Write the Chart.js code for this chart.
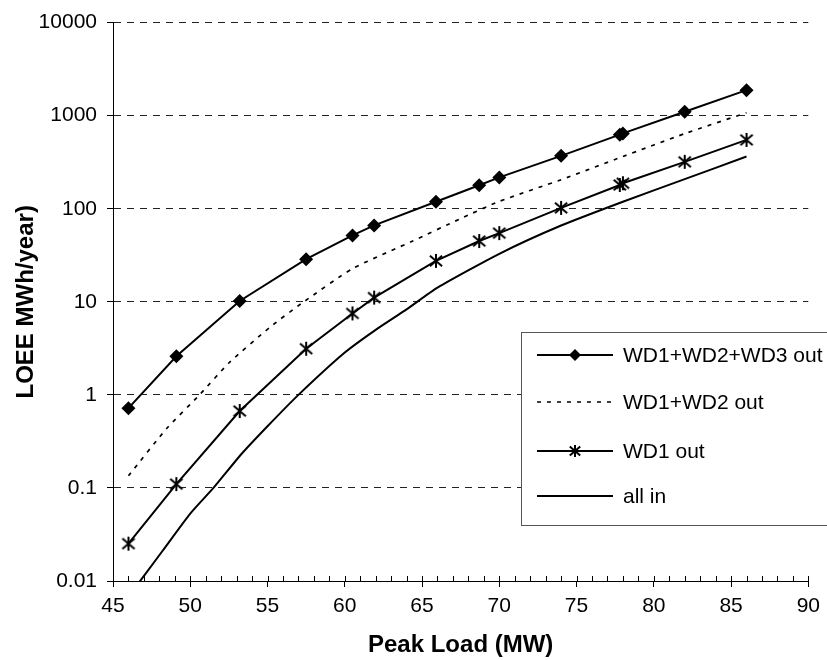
<!DOCTYPE html>
<html>
<head>
<meta charset="utf-8">
<script src="https://cdn.jsdelivr.net/npm/chart.js@4.4.0/dist/chart.umd.min.js"></script>
<style>
html, body { margin: 0; padding: 0; background: #fff; }
#wrap { width: 827px; height: 660px; }
</style>
</head>
<body>
<div id="wrap"><canvas id="loeeChart" width="827" height="660"></canvas></div>
<script>
// peak load values where the markers sit (MW)
const loadMW = [46, 49.1, 53.2, 57.5, 60.5, 61.9, 65.9, 68.7, 70, 74, 77.8, 78, 82, 86];
const wd123Out = [0.72, 2.6, 10.2, 28.7, 51.7, 66.2, 119, 179, 217, 370, 625, 645, 1100, 1880];
const wd1Out = [0.0252, 0.110, 0.67, 3.13, 7.5, 11.1, 27.5, 45, 54.7, 102, 180, 188, 319, 549];

// the unmarked curves, read at their own loads
const wd12Load = [46, 48.5, 50.6, 52.5, 55.2, 57.2, 60.5, 64.4, 67.4, 70, 74, 78, 82, 86];
const wd12Out = [0.135, 0.44, 1.0, 2.2, 5.4, 9.6, 22.7, 45, 77, 120, 205, 364, 641, 1075];
const allInLoad = [46, 48.2, 50, 51.5, 53.3, 55, 57, 60, 62, 64, 66, 70, 74, 78, 82, 86];
const allIn = [0.0068, 0.021, 0.053, 0.10, 0.23, 0.46, 1.0, 2.85, 5.0, 8.3, 14.2, 32.8, 66, 119, 208, 364];

const seriesNames = ['WD1+WD2+WD3 out', 'WD1+WD2 out', 'WD1 out', 'all in'];
const yTicks = [0.01, 0.1, 1, 10, 100, 1000, 10000];
const yTickLabels = ['0.01', '0.1', '1', '10', '100', '1000', '10000'];
const xTicks = [45, 50, 55, 60, 65, 70, 75, 80, 85, 90];

const FONT = '"Liberation Sans", Arial, sans-serif';

function pairs(xs, ys) {
    return xs.map((x, i) => ({ x: x, y: ys[i] }));
}

// excel style asterisk marker (X with a vertical bar)
function makeAsterisk(size, lw) {
    const c = document.createElement('canvas');
    c.width = size;
    c.height = size;
    const g = c.getContext('2d');
    const m = size / 2;
    const r = size / 2 - 1;
    g.strokeStyle = '#000';
    g.lineWidth = lw;
    g.beginPath();
    g.moveTo(m, m - r); g.lineTo(m, m + r);
    g.moveTo(m - r * 0.87, m - r * 0.75); g.lineTo(m + r * 0.87, m + r * 0.75);
    g.moveTo(m + r * 0.87, m - r * 0.75); g.lineTo(m - r * 0.87, m + r * 0.75);
    g.stroke();
    return c;
}
const starBig = makeAsterisk(16, 2);
const starSmall = makeAsterisk(14, 2);

// minor ticks on the x axis, drawn inside the plot
const xMinorTicks = {
    id: 'xMinorTicks',
    afterDraw(chart) {
        const ctx = chart.ctx;
        const xs = chart.scales.x;
        const bottom = chart.chartArea.bottom;
        ctx.save();
        ctx.strokeStyle = '#000';
        ctx.lineWidth = 1;
        ctx.beginPath();
        for (let v = xs.min; v <= xs.max; v++) {
            const px = Math.round(xs.getPixelForValue(v)) + 0.5;
            ctx.moveTo(px, bottom - 5);
            ctx.lineTo(px, bottom);
        }
        ctx.stroke();
        ctx.restore();
    }
};

// boxed legend sitting inside the plot, cut by the right edge
const boxLegend = {
    id: 'boxLegend',
    afterDraw(chart) {
        const ctx = chart.ctx;
        const rows = [355, 402, 451, 496];
        ctx.save();
        ctx.fillStyle = '#fff';
        ctx.fillRect(521, 332, 400, 194);
        ctx.strokeStyle = '#555';
        ctx.lineWidth = 1;
        ctx.strokeRect(521.5, 332.5, 400, 193);

        chart.data.datasets.forEach((ds, i) => {
            const y = rows[i];
            ctx.strokeStyle = '#000';
            ctx.lineWidth = ds.borderWidth;
            ctx.setLineDash(ds.borderDash || []);
            ctx.beginPath();
            ctx.moveTo(537, y);
            ctx.lineTo(613, y);
            ctx.stroke();
            ctx.setLineDash([]);
            if (ds.pointStyle === 'rectRot') {
                ctx.fillStyle = '#000';
                ctx.beginPath();
                ctx.moveTo(575, y - 6);
                ctx.lineTo(581, y);
                ctx.lineTo(575, y + 6);
                ctx.lineTo(569, y);
                ctx.closePath();
                ctx.fill();
            } else if (ds.pointStyle instanceof HTMLCanvasElement) {
                ctx.drawImage(starSmall, 575 - 7, y - 7);
            }
            ctx.fillStyle = '#000';
            ctx.font = '21px ' + FONT;
            ctx.textBaseline = 'middle';
            ctx.textAlign = 'left';
            ctx.fillText(ds.label, 623, y + 1);
        });
        ctx.restore();
    }
};

const ctx = document.getElementById('loeeChart').getContext('2d');
const chart = new Chart(ctx, {
    type: 'line',
    data: {
        datasets: [
            {
                label: seriesNames[0],
                data: pairs(loadMW, wd123Out),
                borderColor: '#000',
                backgroundColor: '#000',
                borderWidth: 2,
                pointStyle: 'rectRot',
                pointRadius: 7,
                pointBorderWidth: 0,
                tension: 0
            },
            {
                label: seriesNames[1],
                data: pairs(wd12Load, wd12Out),
                borderColor: '#000',
                borderWidth: 1.7,
                borderDash: [4, 6],
                pointRadius: 0,
                tension: 0.2
            },
            {
                label: seriesNames[2],
                data: pairs(loadMW, wd1Out),
                borderColor: '#000',
                backgroundColor: '#000',
                borderWidth: 2,
                pointStyle: starBig,
                pointRadius: 8,
                tension: 0
            },
            {
                label: seriesNames[3],
                data: pairs(allInLoad, allIn),
                borderColor: '#000',
                borderWidth: 2,
                pointRadius: 0,
                tension: 0.2
            }
        ]
    },
    options: {
        responsive: false,
        animation: false,
        events: [],
        layout: { padding: { top: 19, right: 18, left: 0, bottom: 0 } },
        plugins: {
            legend: { display: false },
            tooltip: { enabled: false }
        },
        scales: {
            x: {
                type: 'linear',
                min: 45,
                max: 90,
                afterFit: (scale) => { scale.height = 79; },
                afterBuildTicks: (scale) => { scale.ticks = xTicks.map(v => ({ value: v })); },
                grid: {
                    drawOnChartArea: false,
                    drawTicks: true,
                    tickLength: 6,
                    tickColor: '#000',
                    tickWidth: 1
                },
                border: { display: true, color: '#000', width: 1 },
                ticks: {
                    color: '#000',
                    font: { family: FONT, size: 21 },
                    padding: 7,
                    maxRotation: 0
                },
                title: {
                    display: true,
                    text: 'Peak Load (MW)',
                    color: '#000',
                    font: { family: FONT, size: 24, weight: 'bold' },
                    padding: { top: 0, bottom: 0 }
                }
            },
            y: {
                type: 'logarithmic',
                min: 0.01,
                max: 10000,
                afterFit: (scale) => { scale.width = 113; },
                afterBuildTicks: (scale) => { scale.ticks = yTicks.map(v => ({ value: v })); },
                grid: {
                    color: '#222',
                    lineWidth: 1,
                    drawTicks: true,
                    tickLength: 6,
                    tickColor: '#000',
                    tickWidth: 1,
                    tickBorderDash: []
                },
                border: { display: true, color: '#000', width: 1, dash: [7, 6] },
                ticks: {
                    color: '#000',
                    font: { family: FONT, size: 21 },
                    padding: 10,
                    callback: (value) => yTickLabels[yTicks.indexOf(value)]
                },
                title: {
                    display: true,
                    text: 'LOEE MWh/year)',
                    color: '#000',
                    font: { family: FONT, size: 24, weight: 'bold' },
                    padding: { top: 12, bottom: 0 }
                }
            }
        }
    },
    plugins: [xMinorTicks, boxLegend]
});
</script>
</body>
</html>
